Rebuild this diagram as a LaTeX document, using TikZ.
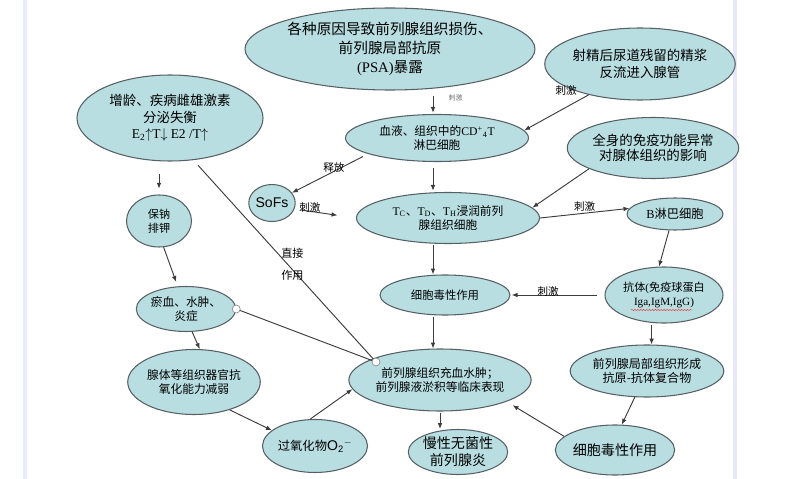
\documentclass[tikz,border=0pt]{standalone}
\usepackage{fontspec}
\setmainfont{Noto Sans CJK SC}
\newfontfamily\lat{Liberation Serif}
\newfontfamily\sans{Liberation Sans}
\usetikzlibrary{calc, arrows.meta, shapes.geometric, decorations.pathmorphing}

\definecolor{cellfill}{RGB}{184,222,226}
\definecolor{celledge}{RGB}{86,96,100}
\definecolor{linkgray}{RGB}{60,60,60}
\definecolor{pageedge}{RGB}{230,238,249}
\definecolor{pageedgeb}{RGB}{231,233,250}

\begin{document}
\begin{tikzpicture}[
  x=0.03cm, y=-0.03cm,
  arrow/.style={-{Latex[length=5pt, width=4pt]}, draw=linkgray, line width=0.8pt},
  link/.style={draw=linkgray, line width=0.8pt},
  cell/.style={ellipse, draw=celledge, fill=cellfill, line width=0.9pt,
               inner sep=0pt, align=center},
  dims/.style 2 args={minimum width=#1*0.03cm, minimum height=#2*0.03cm},
  tag/.style={font=\fontsize{9}{11}\selectfont, inner sep=1pt},
  joint/.style={circle, draw=black!45, fill=white, line width=0.6pt,
                minimum size=8*0.03cm, inner sep=0pt}
]
\useasboundingbox (0,0) rectangle (800,479);

% --- page edges ---
\fill[pageedge] (23,0) rectangle (27,479);
\fill[pageedgeb] (733,0) rectangle (737,479);

% --- causes ---
\node[cell, dims={272}{82}, font=\fontsize{12.5}{16}\selectfont] (injury) at (390,49)
  {各种原因导致前列腺组织损伤、\\前列腺局部抗原\\{\lat (PSA)}暴露};
\node[cell, dims={156}{72}, font=\fontsize{11.5}{14.5}\selectfont] (reflux) at (640,64)
  {射精后尿道残留的精浆\\反流进入腺管};
\node[cell, dims={186}{86}, font=\fontsize{11.5}{14}\selectfont] (hormone) at (170,118)
  {增龄、疾病雌雄激素\\分泌失衡\\{\lat E\textsubscript{2}}$\uparrow${\lat T}$\downarrow$ {\lat E2 /T}$\uparrow$};
\node[cell, dims={143}{61}, font=\fontsize{11.5}{13}\selectfont] (immune) at (653,148)
  {全身的免疫功能异常\\对腺体组织的影响};

% --- immune cells ---
\node[cell, dims={183}{47}, font=\fontsize{10}{12}\selectfont] (cd4) at (437,138)
  {血液、组织中的{\lat CD\textsuperscript{+}\textsubscript{4}T}\\淋巴细胞};
\node[cell, dims={43}{37}, font=\sans\fontsize{12}{14}\selectfont] (sofs) at (272,203) {SoFs};
\node[cell, dims={183}{51}, font=\fontsize{10}{12.5}\selectfont] (tcell) at (448,218)
  {{\lat T\textsubscript{C}}、{\lat T\textsubscript{D}}、{\lat T\textsubscript{H}}浸润前列\\腺组织细胞};
\node[cell, dims={96}{32}, font=\fontsize{10.5}{12}\selectfont] (bcell) at (675,214)
  {{\lat B}淋巴细胞};
\node[cell, dims={130}{40}, font=\fontsize{9.7}{12}\selectfont] (cyto) at (445,295)
  {细胞毒性作用};
\node[cell, dims={118}{56}, font=\fontsize{9.5}{12}\selectfont] (antibody) at (664,295)
  {抗体{\lat (}免疫球蛋白\\{\lat Iga,IgM,IgG)}};
\node[cell, dims={122}{52}, font=\fontsize{10.3}{12}\selectfont] (complex) at (647,371)
  {前列腺局部组织形成\\抗原-抗体复合物};
\node[cell, dims={105}{50}, font=\fontsize{12}{14}\selectfont] (cytob) at (615,450)
  {细胞毒性作用};

% --- left branch ---
\node[cell, dims={65}{52}, font=\fontsize{9.5}{12}\selectfont] (sodium) at (159,221)
  {保钠\\排钾};
\node[cell, dims={95}{45}, font=\fontsize{10}{12}\selectfont] (stasis) at (186,309)
  {瘀血、水肿、\\炎症};
\node[cell, dims={125}{65}, font=\fontsize{10}{11.5}\selectfont] (antiox) at (194,382)
  {腺体等组织器官抗\\氧化能力减弱};
\node[cell, dims={84}{53}, font=\fontsize{10.5}{12}\selectfont] (perox) at (315,446)
  {过氧化物{\sans\fontsize{12}{12}\selectfont O\textsubscript{2}\textsuperscript{$-$}}};

% --- outcome ---
\node[cell, dims={148}{62}, font=\fontsize{10}{12}\selectfont] (effect) at (440,380)
  {前列腺组织充血水肿；\\前列腺液淤积等临床表现};
\node[cell, dims={95}{45}, font=\fontsize{12}{14.5}\selectfont] (chronic) at (458,452)
  {慢性无菌性\\前列腺炎};

% spell-check squiggle under the antibody classes
\draw[red!80, line width=0.4pt, decorate,
      decoration={snake, amplitude=0.5pt, segment length=2.5pt}]
  ($(antibody.center)+(-33,15)$) -- ($(antibody.center)+(28,15)$);

% --- joints ---
\node[joint] (stasisjoint) at (stasis.east) {};
\node[joint] (glue) at (376,362) {};
\coordinate (axis) at (433,0);

% --- connectors ---
\draw[arrow, shorten <=5pt, shorten >=1pt] (injury.south -| axis) --
  node[tag, pos=0.3, right=12pt, text=black!55, font=\fontsize{6}{7}\selectfont]{刺激}
  (cd4.north -| axis);
\draw[arrow] (reflux.211) --
  node[tag, pos=0.05, anchor=south east, xshift=-6pt]{刺激} (cd4.5);
\draw[arrow, shorten <=5pt] (cd4.193) --
  node[tag, pos=0.45, yshift=3pt]{释放} (sofs.27);
\draw[arrow, shorten <=6pt, shorten >=16pt] (sofs.-15) --
  node[tag, pos=0.25, yshift=3pt]{刺激} (tcell.west);
\draw[arrow, shorten <=5pt, shorten >=1pt] (cd4.south -| axis) -- (tcell.north -| axis);
\draw[arrow] (immune.198) -- (tcell.7);
\draw[arrow] (tcell.east) -- node[tag, above]{刺激} (bcell.173);
\draw[arrow, shorten <=1pt] (tcell.south -| axis) -- (cyto.north -| axis);
\draw[arrow] (bcell.250) -- (antibody.100);
\draw[arrow, shorten <=6pt, shorten >=1pt] (antibody.west) --
  node[tag, pos=0.6, yshift=3pt]{刺激} (cyto.east);
\draw[arrow, shorten <=1pt] (cyto.south -| axis) -- (effect.north -| axis);
\draw[arrow, shorten <=2pt] (antibody.246) -- (antibody.246 |- complex.north);
\draw[arrow] (complex.245) -- (cytob.75);
\draw[arrow, shorten >=6pt] (cytob.165) -- (effect.342);
\draw[arrow, shorten <=1pt] (effect.south) -- (effect.south |- chronic.north);

\draw[arrow, shorten <=11pt, shorten >=5pt] (hormone.south -| sodium.north) -- (sodium.north);
\draw[arrow, shorten >=4pt] (sodium.280) -- (stasis.110);
\draw[arrow] (stasis.285) -- (antiox.80);
\draw[arrow] (antiox.322) -- (perox.160);
\draw[arrow] (perox.100) -- (effect.186);

\draw[link] (stasisjoint) -- (glue);
\draw[link, shorten <=6pt] (hormone.299) --
  node[tag, pos=0.5, anchor=west, xshift=-3pt, yshift=-4pt, align=center,
       font=\fontsize{9.5}{19}\selectfont]{直接\\作用} (glue);

\end{tikzpicture}
\end{document}
